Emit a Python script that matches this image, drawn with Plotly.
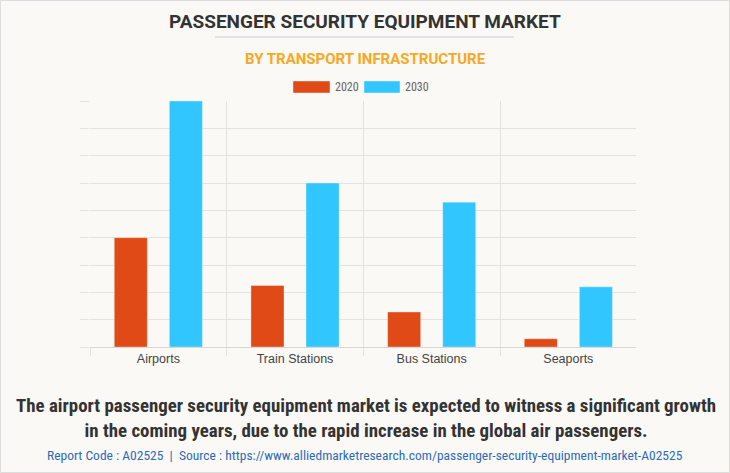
import plotly.graph_objects as go

categories = ["Airports", "Train Stations", "Bus Stations", "Seaports"]
values_2020 = [4.0, 2.25, 1.28, 0.3]
values_2030 = [9.0, 6.0, 5.3, 2.2]
series_names = ["2020", "2030"]
series_colors = ["#DF4A16", "#31C6FE"]

title = "PASSENGER SECURITY EQUIPMENT MARKET"
subtitle = "BY TRANSPORT INFRASTRUCTURE"
caption = ("The airport passenger security equipment market is expected to witness a significant growth<br>"
           "in the coming years, due to the rapid increase in the global air passengers.")
footer = ("Report Code : A02525  |  Source : https://www.alliedmarketresearch.com/"
          "passenger-security-equipment-market-A02525")

COND = "Roboto Condensed, Roboto, sans-serif"
ROBO = "Roboto, sans-serif"
W, H = 730, 473
ML, MR, MT, MB = 90, 94, 101, 126

fig = go.Figure()
for name, vals, col in zip(series_names, [values_2020, values_2030], series_colors):
    fig.add_trace(go.Bar(x=categories, y=vals, name=name, marker_color=col,
                         marker_line=dict(color="rgba(255,255,255,0.35)", width=1),
                         showlegend=False))

fig.update_layout(
    width=W, height=H,
    margin=dict(l=ML, r=MR, t=MT, b=MB),
    paper_bgcolor="#FAF9F5", plot_bgcolor="#FAF9F5",
    barmode="group", bargap=0.194, bargroupgap=0.4,
    xaxis=dict(type="category", tickson="boundaries", showgrid=True, gridcolor="#E3E2DE",
               range=[-0.5, 3.495],
               ticks="outside", ticklen=8, tickcolor="#E3E2DE",
               showline=True, linecolor="#D8D7D3", linewidth=1,
               tickfont=dict(family="Liberation Sans, Arial, sans-serif", size=12.5, color="#444444")),
    yaxis=dict(range=[0, 9], dtick=1, showgrid=True, gridcolor="#E3E2DE",
               ticks="outside", ticklen=9, tickcolor="#E3E2DE",
               showticklabels=False, zeroline=False, showline=False),
    font=dict(family="Liberation Sans, Arial, sans-serif"),
)

def px_x(x):
    return (x - ML) / (W - ML - MR)

def px_y(y):
    return (H - MB - y) / (H - MT - MB)

ann = [
    dict(text="<b>%s</b>" % title, x=365, y=21, font=dict(family=ROBO, size=19, color="#333333")),
    dict(text="<b>%s</b>" % subtitle, x=365, y=59, font=dict(family=ROBO, size=15, color="#F9A823")),
    dict(text="<b>%s</b>" % caption, x=366, y=418, font=dict(family=COND, size=18.9, color="#333333")),
    dict(text=footer, x=365, y=455, font=dict(family=COND, size=13.5, color="#2F6BB5")),
    dict(text=series_names[0], x=333, y=87, xanchor="left", font=dict(family=COND, size=12, color="#666666")),
    dict(text=series_names[1], x=403, y=87, xanchor="left", font=dict(family=COND, size=12, color="#666666")),
]
annotations = []
for a in ann:
    d = dict(showarrow=False, xref="paper", yref="paper", yanchor="middle", xanchor="center")
    d.update(a)
    d["x"] = px_x(d["x"])
    d["y"] = px_y(d["y"])
    annotations.append(d)
fig.update_layout(annotations=annotations)

shapes = [
    dict(type="line", xref="paper", yref="paper", x0=px_x(215), x1=px_x(514), y0=px_y(37), y1=px_y(37),
         line=dict(color="#CCCCCC", width=1)),
    dict(type="rect", xref="paper", yref="paper", x0=px_x(293), x1=px_x(330), y0=px_y(81), y1=px_y(93),
         fillcolor=series_colors[0], line=dict(color="rgba(255,255,255,0.4)", width=1)),
    dict(type="rect", xref="paper", yref="paper", x0=px_x(364), x1=px_x(400), y0=px_y(81), y1=px_y(93),
         fillcolor=series_colors[1], line=dict(color="rgba(255,255,255,0.4)", width=1)),
    dict(type="rect", xref="paper", yref="paper", x0=px_x(0.5), x1=px_x(729.5), y0=px_y(0.5), y1=px_y(472.5),
         line=dict(color="#DDDDDD", width=1)),
]
fig.update_layout(shapes=shapes)

fig.write_html("out.html", config={"displayModeBar": False},
               post_script="document.body.style.margin='0';")
